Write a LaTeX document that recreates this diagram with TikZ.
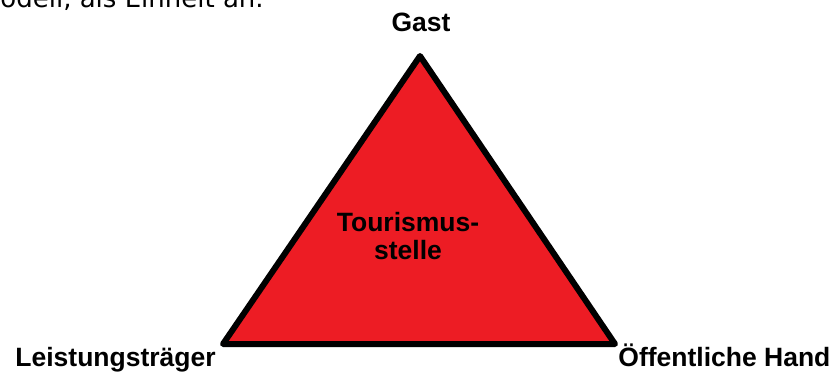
\documentclass[tikz,border=0pt]{standalone}
\usepackage{fontspec}
\setmainfont{Liberation Sans}
\newfontfamily\topfont{DejaVu Sans}
\usetikzlibrary{positioning}

% colour of the triangle
\definecolor{paintred}{RGB}{237,28,36}

\begin{document}
\begin{tikzpicture}[x=0.5pt,y=-0.5pt,
    cornerlabel/.style={font=\fontsize{13.25}{14}\selectfont\bfseries, inner sep=0pt}]

% picture size
\useasboundingbox (0,0) rectangle (831,374);
\clip (0,0) rectangle (831,374);

% cut-off line of text at the top
\node[anchor=base west, inner sep=0pt, font=\topfont\fontsize{13}{16}\selectfont] (topline) at (0,8) {odell, als Einheit an.};

% corners of the triangle
\coordinate (apex) at (420,56);
\coordinate (leftcorner) at (223,344);
\coordinate (rightcorner) at (615,344);

% the triangle
\draw[line width=3pt, line join=round, fill=paintred] (apex) -- (leftcorner) -- (rightcorner) -- cycle;

% labels at the corners
\node[cornerlabel, anchor=base] (gast) at (421,32) {Gast};
\node[cornerlabel, anchor=base west] (leistung) at (15,366) {Leistungsträger};
\node[cornerlabel, anchor=base west] (hand) at (618,366) {Öffentliche Hand};

% label in the middle
\node[cornerlabel, align=center] (stelle) at (408,236) {Tourismus-\\stelle};

\end{tikzpicture}
\end{document}
